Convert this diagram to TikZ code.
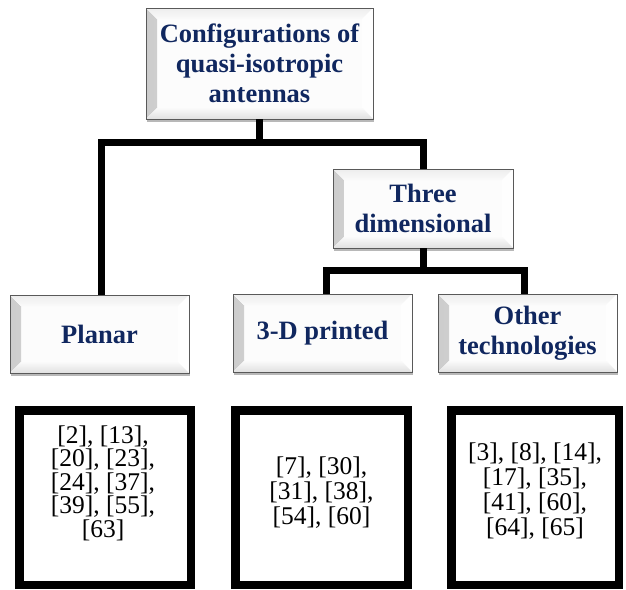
\documentclass[tikz,border=0pt]{standalone}
\usepackage{fontspec}
\setmainfont{Liberation Serif}
\usetikzlibrary{shadows}
\definecolor{navy}{HTML}{10275F}
\tikzset{
  bevelbox/.style={draw=black!65, line width=0.8pt, fill=black!1, text=navy, align=center,
    font=\bfseries\fontsize{26.5}{30}\selectfont, inner sep=0pt,
    drop shadow={shadow xshift=1.2pt, shadow yshift=-2.5pt, fill=black, opacity=0.28},
    path picture={
      \fill[left color=black!20, right color=black!2]
        (path picture bounding box.south west) -- (path picture bounding box.north west)
        -- ([shift={(11pt,-11pt)}]path picture bounding box.north west)
        -- ([shift={(11pt,11pt)}]path picture bounding box.south west) -- cycle;
      \fill[top color=black!7, bottom color=black!2]
        (path picture bounding box.north west) -- (path picture bounding box.north east)
        -- ([shift={(-11pt,-11pt)}]path picture bounding box.north east)
        -- ([shift={(11pt,-11pt)}]path picture bounding box.north west) -- cycle;
      \fill[black!0.5]
        (path picture bounding box.north east) -- (path picture bounding box.south east)
        -- ([shift={(-11pt,11pt)}]path picture bounding box.south east)
        -- ([shift={(-11pt,-11pt)}]path picture bounding box.north east) -- cycle;
      \fill[top color=black!2, bottom color=black!12]
        (path picture bounding box.south west) -- (path picture bounding box.south east)
        -- ([shift={(-11pt,11pt)}]path picture bounding box.south east)
        -- ([shift={(11pt,11pt)}]path picture bounding box.south west) -- cycle;
    }},
  conn/.style={line width=7pt, line join=miter, draw=black},
  refbox/.style={draw=black, line width=8.5pt, fill=white, inner sep=0pt},
  reftext/.style={align=center, inner sep=0pt, text=black},
  reftextA/.style={reftext, font=\fontsize{25.5}{23.5}\selectfont},
  reftextB/.style={reftext, font=\fontsize{25.5}{25}\selectfont},
}
\begin{document}
\begin{tikzpicture}[x=1pt, y=-1pt]
\useasboundingbox (0,0) rectangle (626,589);
\fill[white] (0,0) rectangle (626,589);

% category boxes
\node[bevelbox, minimum width=227pt, minimum height=111pt] (top) at (259.5,63.5)
  {Configurations of\\quasi-isotropic\\antennas};
\node[bevelbox, minimum width=180pt, minimum height=79pt] (three) at (423,208.5)
  {Three\\dimensional};
\node[bevelbox, minimum width=179pt, minimum height=78pt] (planar) at (99.5,334)
  {Planar};
\node[bevelbox, minimum width=179pt, minimum height=78pt] (printed) at (322.5,333)
  {3-D printed};
\node[bevelbox, minimum width=179pt, minimum height=78pt] (other) at (527.5,333)
  {Other\\technologies};

% connectors
\coordinate (j1) at ([yshift=-23pt]top.south);
\draw[conn] (top.south) -- (j1);
\draw[conn] ([xshift=1.5pt]planar.north) |- (j1) -| (three.north);
\coordinate (j2) at ([yshift=-22pt]three.south);
\draw[conn] (three.south) -- (j2);
\draw[conn] ([xshift=3.5pt]printed.north) |- (j2) -| ([xshift=-3.5pt]other.north);

% reference boxes
\node[refbox, minimum width=171.5pt, minimum height=174.5pt] (r1) at (105,497.5) {};
\node[refbox, minimum width=172.5pt, minimum height=174.5pt] (r2) at (321.5,497.5) {};
\node[refbox, minimum width=167.5pt, minimum height=174.5pt] (r3) at (535,497.5) {};

\node[reftextA] (t1) at (103,483)
  {[2], [13],\\{}[20], [23],\\{}[24], [37],\\{}[39], [55],\\{}[63]};
\node[reftextB] (t2) at (321.5,493)
  {[7], [30],\\{}[31], [38],\\{}[54], [60]};
\node[reftextB] (t3) at (535,491)
  {[3], [8], [14],\\{}[17], [35],\\{}[41], [60],\\{}[64], [65]};
\end{tikzpicture}
\end{document}
